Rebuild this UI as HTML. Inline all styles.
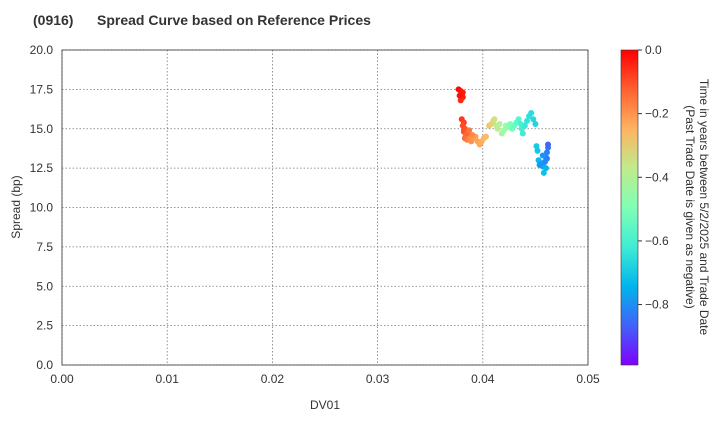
<!DOCTYPE html>
<html><head><meta charset="utf-8"><style>
body{margin:0;background:#fff;font-family:"Liberation Sans",sans-serif}
svg text{font-family:"Liberation Sans",sans-serif;fill:#333}
</style></head><body>
<svg id="c" width="720" height="420" xmlns="http://www.w3.org/2000/svg">
<defs><linearGradient id="cb" x1="0" y1="1" x2="0" y2="0">
<stop offset="0" stop-color="#8000ff"/><stop offset="0.125" stop-color="#4062fa"/><stop offset="0.25" stop-color="#00b5eb"/><stop offset="0.375" stop-color="#40ecd4"/><stop offset="0.5" stop-color="#80ffb4"/><stop offset="0.625" stop-color="#c0eb8d"/><stop offset="0.75" stop-color="#ffb360"/><stop offset="0.875" stop-color="#ff6130"/><stop offset="1" stop-color="#ff0000"/></linearGradient></defs>
<text x="33" y="25" font-size="14" font-weight="bold">(0916)</text>
<text x="97" y="25" font-size="14" font-weight="bold">Spread Curve based on Reference Prices</text>
<g id="grid"></g>
<rect x="62" y="50" width="526" height="315" fill="none" stroke="#333" stroke-width="0.8"/>
<g id="pts"></g>
<text x="325" y="409" font-size="12" text-anchor="middle">DV01</text>
<text transform="translate(20,207) rotate(-90)" font-size="12" text-anchor="middle">Spread (bp)</text>
<rect x="621" y="50" width="17" height="315" fill="url(#cb)" stroke="#333" stroke-width="0.6"/>
<g id="cbt"></g>
<text transform="translate(700,207) rotate(90)" font-size="12" text-anchor="middle">Time in years between 5/2/2025 and Trade Date</text>
<text transform="translate(686,207) rotate(90)" font-size="12" text-anchor="middle">(Past Trade Date is given as negative)</text>
</svg>
<script>
const xTicks=[0,0.01,0.02,0.03,0.04,0.05];
const xTickLabels=["0.00","0.01","0.02","0.03","0.04","0.05"];
const yTicks=[0,2.5,5,7.5,10,12.5,15,17.5,20];
const yTickLabels=["0.0","2.5","5.0","7.5","10.0","12.5","15.0","17.5","20.0"];
const cTicks=[0,-0.2,-0.4,-0.6,-0.8];
const cTickLabels=["0.0","\u22120.2","\u22120.4","\u22120.6","\u22120.8"];
const dv01=[0.0377,0.0379,0.0380,0.0381,0.0379,0.0381,0.0380,0.0382,0.0381,0.0383,0.0382,0.0384,0.0383,0.0385,0.0384,0.0386,0.0388,0.0387,0.0389,0.0391,0.0393,0.0395,0.0397,0.0399,0.0401,0.0403,0.0406,0.0408,0.0410,0.0411,0.0413,0.0414,0.0416,0.0418,0.0420,0.0422,0.0424,0.0426,0.0428,0.0430,0.0432,0.0434,0.0436,0.0437,0.0438,0.0440,0.0442,0.0444,0.0446,0.0448,0.0450,0.0451,0.0452,0.0453,0.0455,0.0457,0.0459,0.0460,0.0461,0.0462,0.0462,0.0460,0.0458,0.0456,0.0454,0.0378,0.0382,0.0385,0.0387,0.0390,0.0461,0.0459,0.0457];
const spread=[17.5,17.4,17.2,17.0,16.8,17.3,15.6,15.4,15.2,15.0,14.8,14.6,14.4,14.3,14.6,14.8,14.5,14.3,14.2,14.4,14.5,14.2,14.0,14.2,14.4,14.5,15.2,15.3,15.5,15.6,15.2,15.0,15.3,14.7,14.9,15.2,15.1,15.3,15.0,15.2,15.4,15.6,15.3,15.0,14.7,15.2,15.5,15.8,16.0,15.6,15.3,13.9,13.6,13.0,12.8,12.6,12.9,13.2,13.5,13.8,14.0,12.5,12.2,12.8,12.7,17.1,14.9,14.7,14.9,14.6,13.1,12.9,13.3];
const years=[-0.01,-0.02,-0.03,-0.04,-0.05,-0.03,-0.07,-0.08,-0.09,-0.10,-0.11,-0.12,-0.13,-0.15,-0.14,-0.16,-0.17,-0.18,-0.19,-0.20,-0.21,-0.22,-0.23,-0.24,-0.25,-0.26,-0.28,-0.30,-0.32,-0.34,-0.36,-0.38,-0.40,-0.42,-0.44,-0.46,-0.48,-0.50,-0.52,-0.54,-0.56,-0.58,-0.60,-0.61,-0.62,-0.63,-0.64,-0.65,-0.66,-0.67,-0.68,-0.70,-0.71,-0.73,-0.75,-0.76,-0.78,-0.80,-0.82,-0.84,-0.86,-0.74,-0.72,-0.77,-0.79,-0.02,-0.10,-0.13,-0.15,-0.18,-0.83,-0.81,-0.79];
const NS="http://www.w3.org/2000/svg";
const X=v=>62+v/0.05*526, Y=v=>365-v/20*315, CY=v=>50+(-v)/0.99*315;
function mk(t,a,p){const e=document.createElementNS(NS,t);for(const k in a)e.setAttribute(k,a[k]);p.appendChild(e);return e;}
const g=document.getElementById('grid');
xTicks.forEach((v,i)=>{
 const l=mk('line',{x1:X(v),x2:X(v),y1:50,y2:365,stroke:'#777','stroke-dasharray':'1.5,2','stroke-width':0.8},g);
 
 
 const t=mk('text',{x:X(v),y:383,'font-size':12,'text-anchor':'middle'},g);t.textContent=xTickLabels[i];
 
 
});
yTicks.forEach((v,i)=>{
 const l=mk('line',{x1:62,x2:588,y1:Y(v),y2:Y(v),stroke:'#777','stroke-dasharray':'1.5,2','stroke-width':0.8},g);
 
 
 const t=mk('text',{x:53,y:Y(v)+4,'font-size':12,'text-anchor':'end'},g);t.textContent=yTickLabels[i];
 
 
});
const cg=document.getElementById('cbt');
cTicks.forEach((v,i)=>{
 mk('line',{x1:638,x2:642,y1:CY(v),y2:CY(v),stroke:'#333'},cg);
 const t=mk('text',{x:645,y:CY(v)+4,'font-size':12},cg);t.textContent=cTickLabels[i];
 
 
});
function col(t){const x=Math.max(0,Math.min(1,(t+0.99)/0.99));
 const r=Math.min(1,Math.abs(2*x-0.5)),gg=Math.sin(Math.PI*x),b=Math.cos(Math.PI*x/2);
 return `rgb(${Math.round(r*255)},${Math.round(gg*255)},${Math.round(b*255)})`;}
const pg=document.getElementById('pts');
dv01.forEach((d,i)=>{
 const c=mk('circle',{cx:X(d),cy:Y(spread[i]),r:3,fill:col(years[i])},pg);
 
 
});
</script>
</body></html>
